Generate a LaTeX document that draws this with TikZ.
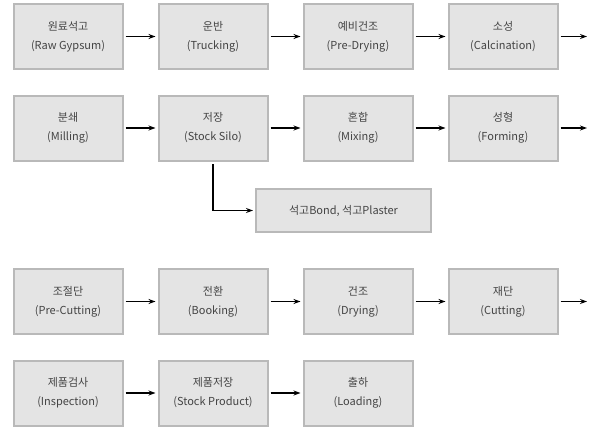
\documentclass[tikz,border=0pt]{standalone}
\usepackage{fontspec}
\setmainfont{Noto Sans CJK KR}
\usetikzlibrary{arrows.meta}
\definecolor{boxfill}{HTML}{E4E4E4}
\definecolor{boxline}{HTML}{B9B9B9}
\definecolor{boxtext}{HTML}{444444}
\begin{document}
\begin{tikzpicture}[x=1pt, y=-1pt,
  stage/.style={draw=boxline, fill=boxfill, line width=2pt, minimum width=109pt, minimum height=65pt,
    align=center, text=boxtext, font=\fontsize{11}{19}\selectfont, inner sep=0pt},
  flow/.style={line width=1.4pt, -{Stealth[length=7pt, width=5pt]}}]

\useasboundingbox (0,0) rectangle (595,431);

% row 1
\node[stage] (raw)  at (68,36.5)  {원료석고\\(Raw Gypsum)};
\node[stage] (truck) at (213,36.5) {운반\\(Trucking)};
\node[stage] (pre)  at (358,36.5) {예비건조\\(Pre-Drying)};
\node[stage] (calc) at (503,36.5) {소성\\(Calcination)};
\coordinate (end1) at (589,36.5);

% row 2
\node[stage] (mill) at (68,128)  {분쇄\\(Milling)};
\node[stage] (silo) at (213,128) {저장\\(Stock Silo)};
\node[stage] (mix)  at (358,128) {혼합\\(Mixing)};
\node[stage] (form) at (503,128) {성형\\(Forming)};
\coordinate (end2) at (589,128);
\node[stage, minimum width=175pt, minimum height=43pt] (bond) at (343.5,210.5) {석고Bond, 석고Plaster};

% row 3
\node[stage] (precut) at (68,301.5)  {조절단\\(Pre-Cutting)};
\node[stage] (book)   at (213,301.5) {전환\\(Booking)};
\node[stage] (dry)    at (358,301.5) {건조\\(Drying)};
\node[stage] (cut)    at (503,301.5) {재단\\(Cutting)};
\coordinate (end3) at (589,301.5);

% row 4
\node[stage] (insp) at (68,393)  {제품검사\\(Inspection)};
\node[stage] (prod) at (213,393) {제품저장\\(Stock Product)};
\node[stage] (load) at (358,393) {출하\\(Loading)};

\begin{scope}[flow, shorten <=2pt, shorten >=2pt]
\draw (raw) -- (truck);
\draw (truck) -- (pre);
\draw (pre) -- (calc);
\draw (calc) -- (end1);
\draw (mill) -- (silo);
\draw (silo) -- (mix);
\draw (mix) -- (form);
\draw (form) -- (end2);
\draw (precut) -- (book);
\draw (book) -- (dry);
\draw (dry) -- (cut);
\draw (cut) -- (end3);
\draw (insp) -- (prod);
\draw (prod) -- (load);
\draw (silo.south |- 0,162) |- (bond.west); %silo-bond
\end{scope}

\end{tikzpicture}
\end{document}
